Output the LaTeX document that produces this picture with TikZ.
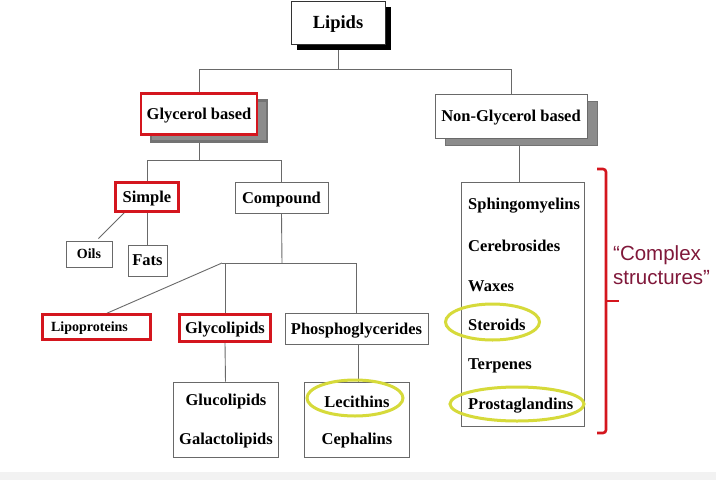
\documentclass[tikz,border=0pt]{standalone}
\usepackage{fontspec}
\setmainfont{Liberation Serif}
\newfontfamily\arialf{Liberation Sans}
\usetikzlibrary{shadows,backgrounds,calc}
\definecolor{boxred}{RGB}{212,22,30}
\definecolor{hlyellow}{RGB}{214,218,58}
\definecolor{cmaroon}{RGB}{128,24,58}
\definecolor{linegray}{RGB}{105,105,105}
\begin{document}
\begin{tikzpicture}[x=1pt,y=-1pt,
  box/.style={draw=linegray, line width=0.9pt, fill=white, inner sep=0pt, text depth=0pt,
    font=\bfseries\fontsize{16.5}{18}\selectfont, text=black},
  smallbox/.style={box, font=\bfseries\fontsize{14}{16}\selectfont},
  redbox/.style={box, draw=boxred, line width=2.6pt},
  conn/.style={draw=linegray, line width=0.9pt},
  hl/.style={draw=hlyellow, line width=3pt},
  item/.style={inner sep=0pt, font=\bfseries\fontsize{16.5}{18}\selectfont},
  blackshadow/.style={drop shadow={shadow xshift=6pt, shadow yshift=-6pt, fill=black, opacity=1}},
  grayshadow/.style={drop shadow={shadow xshift=10pt, shadow yshift=-7pt, fill=black!45, opacity=1, draw=black!55}}
]
\useasboundingbox (0,0) rectangle (716,480);

% nodes
\node[box, draw=black!80, blackshadow, minimum width=94pt, minimum height=43pt,
  font=\bfseries\fontsize{18.5}{20}\selectfont] (lipids) at (338,22.5) {Lipids};
\node[redbox, grayshadow, minimum width=116pt, minimum height=41pt] (glyc) at (199,114) {Glycerol based};
\node[box, grayshadow, minimum width=152pt, minimum height=44pt] (nong) at (511,116) {Non-Glycerol based};

\node[redbox, minimum width=63pt, minimum height=29pt] (simple) at (147,197) {Simple};
\node[box, minimum width=93pt, minimum height=31pt] (compound) at (281.5,197.5) {Compound};
\node[smallbox, minimum width=46pt, minimum height=26pt] (oils) at (89,254) {Oils};
\node[box, minimum width=39pt, minimum height=31pt] (fats) at (147.5,260.5) {Fats};

\node[redbox, smallbox, draw=boxred, line width=2.6pt, minimum width=108pt, minimum height=25pt] (lipop) at (96.5,327) {\hspace*{-14pt}Lipoproteins};
\node[redbox, minimum width=91pt, minimum height=27pt] (glycol) at (225,328) {Glycolipids};
\node[box, minimum width=143pt, minimum height=31pt] (phosph) at (356.5,328.5) {Phosphoglycerides};

\node[box, minimum width=105pt, minimum height=75pt] (gbox) at (225.5,419.5) {};
\node[item] (gluco) at (226,402) {Glucolipids};
\node[item] (galac) at (226,441) {Galactolipids};

\node[box, minimum width=105pt, minimum height=75pt] (lbox) at (356.5,419.5) {};
\node[item] (lec) at (357,402) {Lecithins};
\node[item] (ceph) at (357,441) {Cephalins};

\node[box, minimum width=123pt, minimum height=244pt] (rbox) at (522.5,304) {};
\node[item, anchor=west] (sph) at (468,206) {Sphingomyelins};
\node[item, anchor=west] (cer) at (468,246) {Cerebrosides};
\node[item, anchor=west] (wax) at (468,286) {Waxes};
\node[item, anchor=west] (ster) at (468,325) {Steroids};
\node[item, anchor=west] (terp) at (468,366) {Terpenes};
\node[item, anchor=west] (prost) at (468,406) {Prostaglandins};

% connectors
\begin{scope}[on background layer]
\fill[white] (0,0) rectangle (716,480);
\fill[black!5] (0,472) rectangle (716,480);
\coordinate (jtop) at (338,69);
\draw[conn] (lipids.south) -- (jtop);
\draw[conn] (glyc.north |- jtop) -- (nong.north |- jtop);
\draw[conn] (glyc.north |- jtop) -- (glyc.north);
\draw[conn] (nong.north |- jtop) -- (nong.north);

\coordinate (jg) at (199,160);
\draw[conn] (glyc.south) -- (jg);
\draw[conn] (simple.north |- jg) -- (compound.north |- jg);
\draw[conn] (simple.north |- jg) -- (simple.north);
\draw[conn] (compound.north |- jg) -- (compound.north);

\draw[conn] ([xshift=10pt]simple.south west) -- ([xshift=-14pt,yshift=2pt]oils.north east);
\draw[conn] (simple.south -| fats.north) -- (fats.north);

\coordinate (jc) at (282,263);
\coordinate (jd) at (222,263);
\draw[conn] (compound.south) -- (jc);
\draw[conn] (jd) -- (phosph.north |- jc);
\draw[conn] (glycol.north |- jc) -- (glycol.north);
\draw[conn] (phosph.north |- jc) -- (phosph.north);
\draw[conn] (jd) -- ([xshift=10.5pt]lipop.north);

\draw[conn] (glycol.south) -- (gbox.north);
\draw[conn] ([xshift=1.5pt]phosph.south) -- ([xshift=1.5pt]lbox.north);
\draw[conn] ([xshift=8pt]nong.south) -- ([xshift=-3.5pt]rbox.north);
\end{scope}

% highlights
\draw[hl] (355,398) ellipse [x radius=48, y radius=18];
\draw[hl] (492.5,322) ellipse [x radius=47, y radius=18];
\draw[hl] (517,404) ellipse [x radius=67, y radius=17];

% bracket
\draw[boxred, line width=2.6pt, rounded corners=3pt]
  (597,169) -- (606,169) -- (606,433) -- (597,433);
\draw[boxred, line width=2.6pt] (606,301) -- (619,301);

\node[anchor=west, inner sep=0pt, text=cmaroon, font=\arialf\fontsize{20.5}{24}\selectfont, align=left]
  (cx) at (613,265) {“Complex\\structures”};
\end{tikzpicture}
\end{document}
